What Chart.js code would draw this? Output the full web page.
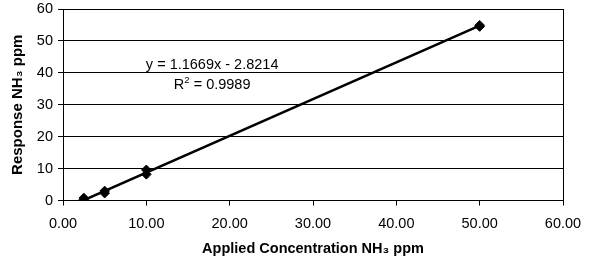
<!DOCTYPE html>
<html><head><meta charset="utf-8">
<script src="https://cdn.jsdelivr.net/npm/chart.js@4.4.1/dist/chart.umd.min.js"></script>
<style>html,body{margin:0;padding:0;background:#fff}#wrap{width:592px;height:267px}</style>
</head><body><div id="wrap"><canvas id="c" width="592" height="267"></canvas></div>
<script>
// Data
const concentrations = [2.5, 2.5, 5, 5, 10, 10, 50, 50];
const responses      = [0.3, 0.8, 2.3, 3.0, 8.2, 9.6, 54.5, 54.9];
const trendX = [2.5, 50];
const trendY = [0.1, 54.8];
const xTicks = [0, 10, 20, 30, 40, 50, 60];
const yTicks = [0, 10, 20, 30, 40, 50, 60];
const equationText = "y = 1.1669x - 2.8214";
const r2Text = ["R", "2", " = 0.9989"];

const pts = concentrations.map((x, i) => ({x, y: responses[i]}));
const trend = trendX.map((x, i) => ({x, y: trendY[i]}));

const FONT = "'Liberation Sans', Arial, sans-serif";

const framePlugin = {
  id: 'frame',
  afterDraw(chart) {
    const {ctx, chartArea: a, scales} = chart;
    ctx.save();
    ctx.strokeStyle = '#000';
    ctx.lineWidth = 1;
    ctx.beginPath();
    ctx.moveTo(a.right + 0.5, a.top);
    ctx.lineTo(a.right + 0.5, a.bottom);
    ctx.stroke();
    // equation annotation
    ctx.fillStyle = '#000';
    const big = "14.5px " + FONT, small = "9.5px " + FONT;
    ctx.font = big;
    ctx.textAlign = 'center';
    ctx.textBaseline = 'middle';
    const cx = scales.x.getPixelForValue(17.9);
    ctx.fillText(equationText, cx, scales.y.getPixelForValue(42.5));
    const y2 = scales.y.getPixelForValue(36.2);
    const w1 = ctx.measureText(r2Text[0]).width;
    const w3 = ctx.measureText(r2Text[2]).width;
    ctx.font = small;
    const w2 = ctx.measureText(r2Text[1]).width;
    let sx = cx - (w1 + w2 + w3) / 2;
    ctx.textAlign = 'left';
    ctx.font = big;
    ctx.fillText(r2Text[0], sx, y2);
    ctx.font = small;
    ctx.fillText(r2Text[1], sx + w1, y2 - 5);
    ctx.font = big;
    ctx.fillText(r2Text[2], sx + w1 + w2, y2);
    ctx.restore();
  }
};

new Chart(document.getElementById('c'), {
  type: 'scatter',
  data: {
    datasets: [
      {
        type: 'line',
        data: trend,
        borderColor: '#000',
        borderWidth: 2.5,
        pointRadius: 0,
        fill: false,
        order: 2
      },
      {
        data: pts,
        backgroundColor: '#000',
        borderColor: '#000',
        pointStyle: 'rectRot',
        pointRadius: 4.8,
        order: 1
      }
    ]
  },
  options: {
    responsive: false,
    animation: false,
    devicePixelRatio: 1,
    layout: {padding: {left: 9, right: 29, top: 9, bottom: 9}},
    plugins: {legend: {display: false}, tooltip: {enabled: false}},
    scales: {
      x: {
        type: 'linear', min: 0, max: 60,
        afterBuildTicks(s) { s.ticks = xTicks.map(v => ({value: v})); },
        afterFit(s) { s.height = 267 - 200.5 - 9; s.paddingLeft = 0; s.paddingRight = 0; },
        ticks: {color: '#000', font: {family: FONT, size: 14.5}, padding: 10,
          callback: v => Number(v).toFixed(2)},
        grid: {drawOnChartArea: false, drawTicks: true, tickLength: 5, color: '#000'},
        border: {color: '#000', width: 1},
        title: {display: true, text: 'Applied Concentration NH₃ ppm', color: '#000',
          font: {family: FONT, size: 14.5, weight: 'bold'}, padding: {top: 4, bottom: 0}}
      },
      y: {
        type: 'linear', min: 0, max: 60,
        afterBuildTicks(s) { s.ticks = yTicks.map(v => ({value: v})); },
        afterFit(s) { s.width = 63 - 9; s.paddingTop = 0; s.paddingBottom = 0; },
        ticks: {color: '#000', font: {family: FONT, size: 14.5}, padding: 5},
        grid: {color: '#000', lineWidth: 1, drawTicks: true, tickLength: 5},
        border: {color: '#000', width: 1},
        title: {display: true, text: 'Response NH₃ ppm', color: '#000',
          font: {family: FONT, size: 15, weight: 'bold'}, padding: {top: 0, bottom: 4}}
      }
    }
  },
  plugins: [framePlugin]
});
</script></body></html>
